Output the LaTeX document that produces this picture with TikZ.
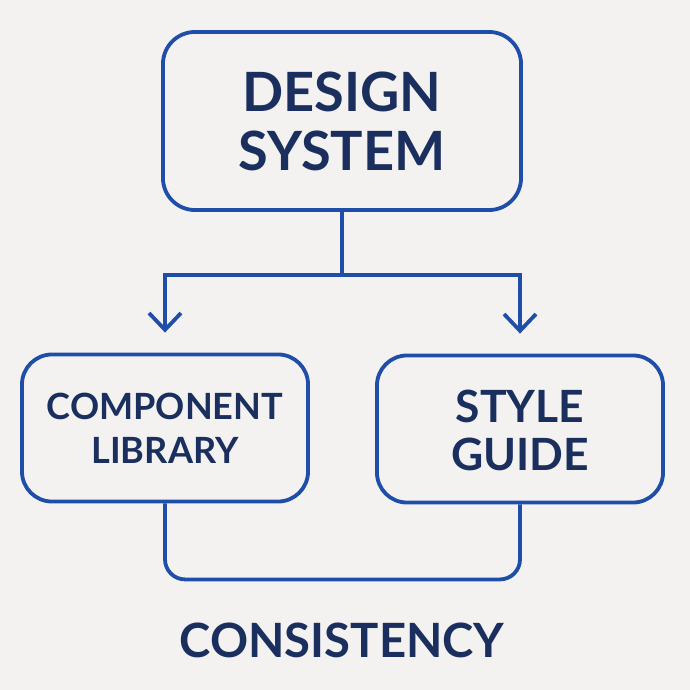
\documentclass[tikz,border=0pt]{standalone}
\usepackage{fontspec}
\setmainfont{Lato}
\usetikzlibrary{arrows.meta}

\definecolor{wireblue}{HTML}{1F4EA8}
\definecolor{inkblue}{HTML}{1B2F5E}
\definecolor{paper}{HTML}{F3F2F1}

\tikzset{
  box/.style={draw=wireblue, line width=2.7pt, rounded corners=0.8cm,
    text=inkblue, align=center, font=\bfseries},
  wire/.style={draw=wireblue, line width=2.7pt},
  tip/.style={-{Straight Barb[length=0.42cm,width=0.8cm,line width=2.7pt]}}
}

\begin{document}
\begin{tikzpicture}[x=0.025cm,y=-0.025cm]
    \fill[paper] (0,0) rectangle (690,690);
    \useasboundingbox (0,0) rectangle (690,690);

    \node[box, minimum width=8.95cm, minimum height=4.45cm,
      font=\fontsize{38.5}{42}\selectfont\bfseries] (system) at (342,121)
      {DESIGN\\SYSTEM};
    \node[box, minimum width=7.15cm, minimum height=3.675cm, rounded corners=0.75cm,
      font=\fontsize{25.7}{31.3}\selectfont\bfseries] (library) at (165,428)
      {COMPONENT\\LIBRARY};
    \node[box, minimum width=7.15cm, minimum height=3.675cm, rounded corners=0.75cm,
      font=\fontsize{31.6}{34}\selectfont\bfseries] (guide) at (520,429)
      {\rule{0pt}{0.9cm}STYLE\\GUIDE};
    \node[text=inkblue, font=\fontsize{33.6}{40}\selectfont\bfseries]
      (consistency) at (342,640) {CONSISTENCY};

    % split from the system down to both parts
    \draw[wire] (system.south) -- (342,275) coordinate (split);
    \draw[wire, tip, shorten >=0.5cm] (split) -| (library.north);
    \draw[wire, tip, shorten >=0.5cm] (split) -| (guide.north);

    % parts joined below
    \draw[wire, rounded corners=0.5cm] (library.south) -- ++(0,76) -| (guide.south);
\end{tikzpicture}
\end{document}
